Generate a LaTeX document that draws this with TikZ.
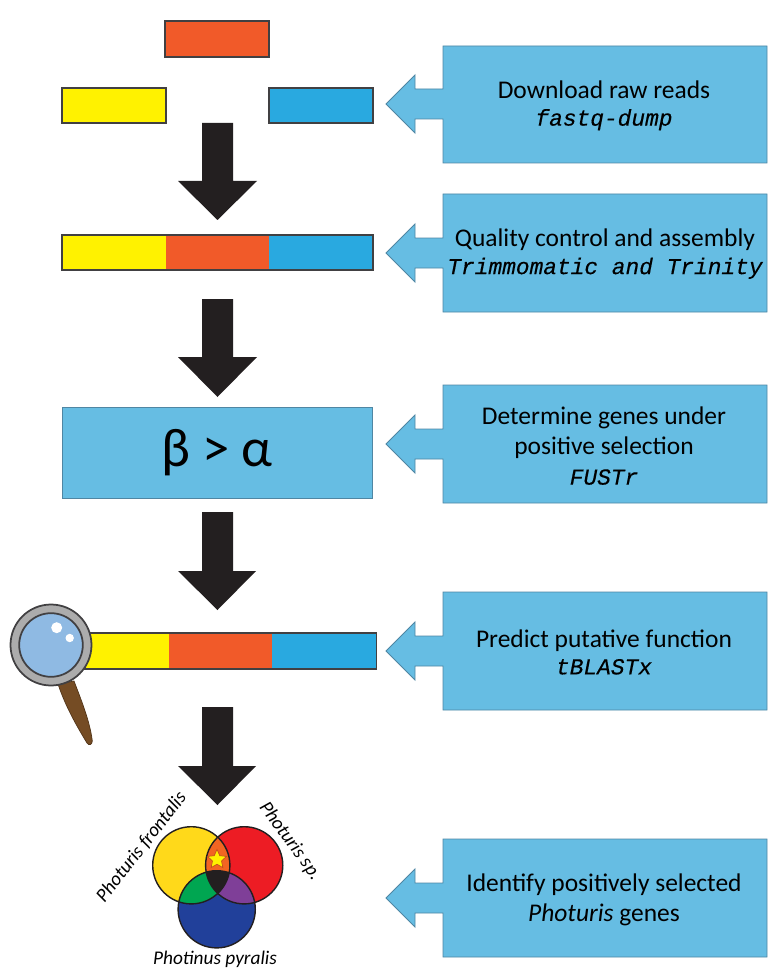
\documentclass[tikz,border=0pt]{standalone}
\usepackage{fontspec}
\setmainfont{Carlito}
\setmonofont[ItalicFeatures={FakeBold=0.25}]{Liberation Mono}
\usetikzlibrary{
  shapes.geometric
  , calc
}
\definecolor{readyellow}{HTML}{FFF200}
\definecolor{readorange}{HTML}{F15A29}
\definecolor{readblue}{HTML}{29A9E0}
\definecolor{boxblue}{HTML}{66BDE3}
\definecolor{boxline}{HTML}{4F86A3}
\definecolor{darkline}{HTML}{414042}
\definecolor{arrowblack}{HTML}{231F20}
\definecolor{lensblue}{HTML}{8FBAE3}
\definecolor{handlebrown}{HTML}{754C24}
\definecolor{vennyellow}{HTML}{FFD91A}
\definecolor{vennred}{HTML}{ED1C24}
\definecolor{vennblue}{HTML}{21409A}
\definecolor{venngreen}{HTML}{00A651}
\definecolor{vennpurple}{HTML}{7F3F98}
\definecolor{vennorange}{HTML}{F26522}
\tikzset{
  readbox/.style={draw=darkline, line width=0.8pt},
  bigarrow/.style={fill=arrowblack, draw=none},
  callout/.style={fill=boxblue, draw=boxline, line width=0.5pt, line join=miter},
  steptext/.style={align=center, text=black, font=\fontsize{14.5}{17}\selectfont},
  vennline/.style={draw=arrowblack, line width=0.8pt},
  species/.style={text=black, font=\fontsize{11}{13}\selectfont\itshape}
}
\newcommand{\toolname}[1]{{\ttfamily\itshape\fontsize{13}{17}\selectfont #1}}
\begin{document}
\begin{tikzpicture}[x=0.2mm,y=-0.2mm]
      \useasboundingbox (0,0) rectangle (780,980);

      % separate reads
      \draw [readbox, fill=readorange] (165,21) rectangle (269,57);
      \draw [readbox, fill=readyellow] (62,88) rectangle (166,123);
      \draw [readbox, fill=readblue] (269,88) rectangle (373,123);

      % assembled reads
      \fill [readyellow] (62,235) rectangle (165.5,270);
      \fill [readorange] (165.5,235) rectangle (269,270);
      \fill [readblue] (269,235) rectangle (373,270);
      \draw [readbox] (62,235) rectangle (373,270);

      % ratio box
      \node [fill=boxblue,
        draw=boxline,
        line width=0.5pt,
        minimum width = 6.2cm,
        minimum height = 1.82cm,
        inner sep=0pt,
        font=\fontsize{31}{36}\selectfont] (ratio) at (217,452.5) {β > α};

      % annotated reads
      \fill [readyellow] (85,633) rectangle (169,669);
      \fill [readorange] (169,633) rectangle (272,669);
      \fill [readblue] (272,633) rectangle (376.5,669);
      \draw [readbox] (85,633) rectangle (376.5,669);

      % magnifying glass
      \coordinate (lens) at (51,645);
      \draw [fill=handlebrown, draw=handlebrown!70!black, line width=0.4pt]
        (58,684) .. controls (66,708) and (78,728) .. (87,743)
        .. controls (89,746) and (92,745) .. (92.3,741)
        .. controls (90,722) and (82,702) .. (74,681) -- cycle;
      \draw [fill=gray!65, draw=darkline, line width=1pt] (lens) circle (40.5);
      \draw [fill=lensblue, draw=darkline, line width=1pt] (lens) circle (31.8);
      \fill [white] (56.7,627.7) circle (5.5);
      \fill [white] (69.7,638) circle (4.2);

      % big arrows
      \draw [bigarrow] (202,123) -- (233,123) -- (233,181) -- (257,181) -- (217.5,220) -- (178,181) -- (202,181) -- cycle;
      \draw [bigarrow] (202,299) -- (233,299) -- (233,357) -- (257,357) -- (217.5,397) -- (178,357) -- (202,357) -- cycle;
      \draw [bigarrow] (202,512) -- (233,512) -- (233,571) -- (256,571) -- (217.5,610) -- (178,571) -- (202,571) -- cycle;
      \draw [bigarrow] (202,707) -- (233,707) -- (233,766) -- (256,766) -- (217.5,805) -- (178,766) -- (202,766) -- cycle;

      % callouts
      \draw [callout] (443,46) -- (767,46) -- (767,163) -- (443,163) -- (443,119) -- (415,119) -- (415,133) -- (386,104) -- (415,75) -- (415,89) -- (443,89) -- cycle;
      \draw [callout] (443,194) -- (767,194) -- (767,312) -- (443,312) -- (443,268) -- (415,268) -- (415,282) -- (386,253) -- (415,224) -- (415,238) -- (443,238) -- cycle;
      \draw [callout] (443,385) -- (767,385) -- (767,503) -- (443,503) -- (443,459) -- (415,459) -- (415,473) -- (386,444) -- (415,415) -- (415,429) -- (443,429) -- cycle;
      \draw [callout] (443,592) -- (767,592) -- (767,710) -- (443,710) -- (443,666) -- (415,666) -- (415,680) -- (386,651) -- (415,622) -- (415,636) -- (443,636) -- cycle;
      \draw [callout] (443,839) -- (767,839) -- (767,957) -- (443,957) -- (443,913) -- (415,913) -- (415,927) -- (386,898) -- (415,869) -- (415,883) -- (443,883) -- cycle;

      \node [steptext] (download) at (604,105.5) {Download raw reads\\[-1.5pt]\toolname{fastq-dump}};
      \node [steptext] (quality) at (605,254) {Quality control and assembly\\[-1.5pt]\toolname{Trimmomatic and Trinity}};
      \node [steptext] (selection) at (604,446) {Determine genes under\\positive selection\\\toolname{FUSTr}};
      \node [steptext] (predict) at (604,652) {Predict putative function\\[-1.5pt]\toolname{tBLASTx}};
      \node [steptext] (identify) at (604,900) {Identify positively selected\\\textit{Photuris} genes};

      % venn diagram
      \coordinate (F) at (191.3,865.3);
      \coordinate (S) at (244.2,865.3);
      \coordinate (P) at (216.7,909.3);
      \fill [vennyellow] (F) circle (38.6);
      \fill [vennred] (S) circle (38.6);
      \fill [vennblue] (P) circle (38.6);
      \begin{scope}
        \clip (F) circle (38.6);
        \fill [venngreen] (P) circle (38.6);
        \fill [vennorange] (S) circle (38.6);
        \clip (S) circle (38.6);
        \fill [arrowblack] (P) circle (38.6);
      \end{scope}
      \begin{scope}
        \clip (S) circle (38.6);
        \clip (P) circle (38.6);
        \fill [vennpurple] (P) circle (38.6);
        \clip (F) circle (38.6);
        \fill [arrowblack] (P) circle (38.6);
      \end{scope}
      \draw [vennline] (F) circle (38.6);
      \draw [vennline] (S) circle (38.6);
      \draw [vennline] (P) circle (38.6);
      \node [star,
        star points=5,
        star point ratio=2.1,
        fill=yellow,
        draw=vennorange!80!black,
        line width=0.4pt,
        minimum size=0.4cm,
        inner sep=0pt] (best) at (217,859.5) {};

      \node [species, rotate=52] (frontalis) at (141.5,847) {Photuris frontalis};
      \node [species, rotate=-54] (sp) at (290,841) {Photuris sp.};
      \node [species] (pyralis) at (215,959) {Photinus pyralis};

    \end{tikzpicture}
\end{document}
